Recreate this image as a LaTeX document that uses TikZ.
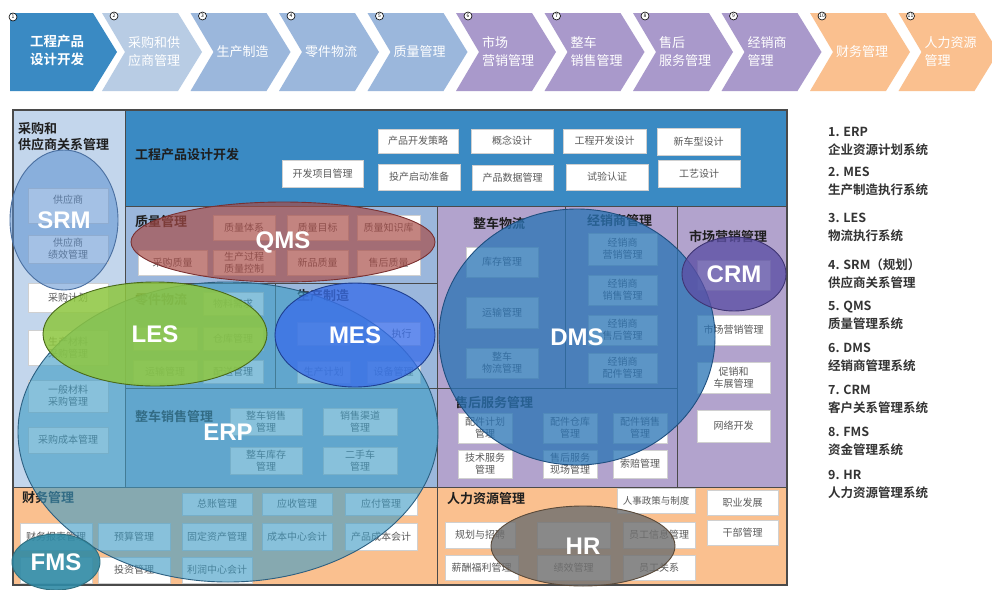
\documentclass[tikz,border=0pt]{standalone}
\usepackage{fontspec}
\setmainfont{Noto Sans CJK SC}[BoldFont={Noto Sans CJK SC Bold}]
\newfontfamily\tagfont{Liberation Sans}[BoldFont={Liberation Sans Bold}]
\usetikzlibrary{shapes.geometric}

% palette
\definecolor{cEng}{HTML}{3A8AC3}
\definecolor{cLight}{HTML}{B8CCE4}
\definecolor{cLeft}{HTML}{C3D6EC}
\definecolor{cMid}{HTML}{9BB7DC}
\definecolor{cPur}{HTML}{B2A3CD}
\definecolor{cPurChev}{HTML}{A999CB}
\definecolor{cOra}{HTML}{FAC08F}
\definecolor{secline}{HTML}{4A4A4A}
\definecolor{boxline}{HTML}{D0D0D0}
\definecolor{boxtext}{HTML}{5A5A5A}
\definecolor{titletext}{HTML}{1E1E1E}
\definecolor{legtext}{HTML}{333333}
% system overlays: fill / edge
\definecolor{erpF}{HTML}{3F9CC5}\definecolor{erpE}{HTML}{2C5F80}
\definecolor{lesF}{HTML}{8DC63F}\definecolor{lesE}{HTML}{4A6A1A}
\definecolor{mesF}{HTML}{3A6EE8}\definecolor{mesE}{HTML}{1F3F90}
\definecolor{srmF}{HTML}{5B8FD0}\definecolor{srmE}{HTML}{4A6FA0}
\definecolor{qmsF}{HTML}{A84A45}\definecolor{qmsE}{HTML}{7A3030}
\definecolor{dmsF}{HTML}{2A74B5}\definecolor{dmsE}{HTML}{1F4F7F}
\definecolor{crmF}{HTML}{5C4FA5}\definecolor{crmE}{HTML}{3F3573}
\definecolor{fmsF}{HTML}{2F8AA5}\definecolor{fmsE}{HTML}{2F6F80}
\definecolor{hrF}{HTML}{707070}\definecolor{hrE}{HTML}{5A4A3A}

\tikzset{
  sect/.style={draw=secline, line width=0.7pt, inner sep=0pt, outer sep=0pt},
  wbox/.style={fill=white, draw=boxline, line width=0.4pt, text=boxtext,
    font=\fontsize{10}{12}\selectfont, align=center, inner sep=0pt},
  ttl/.style={font=\bfseries\fontsize{13}{16}\selectfont, text=titletext,
    inner sep=0pt, anchor=west, align=left},
  chevtext/.style={text=white, font=\fontsize{13}{18}\selectfont,
    inner sep=0pt, anchor=west, align=left},
  ovl/.style={ellipse, inner sep=0pt, line width=0.9pt, text=white, text opacity=1,
    draw opacity=1, font=\tagfont\bfseries\fontsize{24}{24}\selectfont},
  numc/.style={circle, draw=black, fill=white, line width=0.6pt,
    minimum size=8pt, inner sep=0pt, font=\fontsize{5}{5}\selectfont},
  legend/.style={anchor=west, align=left, inner sep=0pt, text=legtext,
    font=\bfseries\fontsize{12.5}{18}\selectfont},
}

% rectangle node given by its corners: [style]{name}{x1}{y1}{x2}{y2}{text}
\newcommand\rbox[7][wbox]{%
  \pgfmathsetmacro\bw{#5-#3}\pgfmathsetmacro\bh{#6-#4}%
  \node[#1, minimum width=\bw pt, minimum height=\bh pt] (#2)
    at ({(#3+#5)/2},{(#4+#6)/2}) {#7};}

% process step arrow: {name}{left x}{colour}{text}{number}
\newcommand\chev[5]{%
  \fill[#3] (#2,13) -- ++(76,0) -- ++(24,39) -- ++(-24,39) -- ++(-76,0) -- ++(23,-39) -- cycle;
  \node[chevtext] (#1) at (#2+26,52) {#4};
  \node[numc] (#1n) at (#2+12,16) {#5};}

% system overlay: {name}{fill}{edge}{opacity}{cx}{cy}{rx}{ry}{label}
\newcommand\sysovl[9]{%
  \node[ovl, fill=#2, fill opacity=#4, draw=#3, minimum width=2*#7 pt,
    minimum height=2*#8 pt] (#1) at (#5,#6) {#9};}

\begin{document}
\begin{tikzpicture}[x=1pt,y=-1pt]
\useasboundingbox (0,0) rectangle (992,589);
\fill[white] (0,0) rectangle (992,589);

% ---------- process chain ----------
\fill[cEng] (10,13) -- (93,13) -- (117,52) -- (93,91) -- (10,91) -- cycle;
\node[chevtext, font=\bfseries\fontsize{13.5}{18}\selectfont] (c1) at (30,50) {工程产品\\设计开发};
\node[numc] (c1n) at (13,17) {1};
\chev{c2}{102}{cLight}{采购和供\\应商管理}{2}
\chev{c3}{190.5}{cMid}{生产制造}{3}
\chev{c4}{279}{cMid}{零件物流}{4}
\chev{c5}{367.5}{cMid}{质量管理}{5}
\chev{c6}{456}{cPurChev}{市场\\营销管理}{6}
\chev{c7}{544.5}{cPurChev}{整车\\销售管理}{7}
\chev{c8}{633}{cPurChev}{售后\\服务管理}{8}
\chev{c9}{721.5}{cPurChev}{经销商\\管理}{9}
\chev{c10}{810}{cOra}{财务管理}{10}
\chev{c11}{898.5}{cOra}{人力资源\\管理}{11}

% ---------- business domains ----------
\rbox[sect, fill=cLeft]{sPur}{13}{110}{125}{487}{}
\rbox[sect, fill=cEng]{sEng}{125}{110}{787}{206}{}
\rbox[sect, fill=cMid]{sQual}{125}{206}{437}{283}{}
\rbox[sect, fill=cMid]{sParts}{125}{283}{275}{388}{}
\rbox[sect, fill=cMid]{sProd}{275}{283}{437}{388}{}
\rbox[sect, fill=cMid]{sSales}{125}{388}{437}{487}{}
\rbox[sect, fill=cPur]{sVLog}{437}{206}{565}{388}{}
\rbox[sect, fill=cPur]{sDeal}{565}{206}{677}{388}{}
\rbox[sect, fill=cPur]{sMkt}{677}{206}{787}{487}{}
\rbox[sect, fill=cPur]{sAfter}{437}{388}{677}{487}{}
\rbox[sect, fill=cOra]{sFin}{13}{487}{437}{585}{}
\rbox[sect, fill=cOra]{sHR}{437}{487}{787}{585}{}
\draw[secline, line width=1.2pt] (sPur.north west) rectangle (sHR.south east);

% domain titles
\node[ttl] (tPur) at (18,137) {采购和\\供应商关系管理};
\node[ttl] (tEng) at (135,155) {工程产品设计开发};
\node[ttl] (tQual) at (135,222) {质量管理};
\node[ttl] (tParts) at (135,300) {零件物流};
\node[ttl] (tProd) at (297,296) {生产制造};
\node[ttl] (tSales) at (135,417) {整车销售管理};
\node[ttl] (tVLog) at (473,223) {整车物流};
\node[ttl] (tDeal) at (587,221) {经销商管理};
\node[ttl] (tMkt) at (689,236) {市场营销管理};
\node[ttl] (tAfter) at (455,403) {售后服务管理};
\node[ttl] (tFin) at (22,498) {财务管理};
\node[ttl] (tHR) at (447,499) {人力资源管理};

% engineering
\rbox{e1}{378}{129}{458}{153}{产品开发策略}
\rbox{e2}{471}{129}{553}{153}{概念设计}
\rbox{e3}{563}{129}{646}{153}{工程开发设计}
\rbox{e4}{657}{128}{740}{155}{新车型设计}
\rbox{e5}{282}{160}{363}{187}{开发项目管理}
\rbox{e6}{378}{164}{460}{190}{投产启动准备}
\rbox{e7}{472}{165}{553}{190}{产品数据管理}
\rbox{e8}{566}{164}{648}{190}{试验认证}
\rbox{e9}{658}{160}{740}{187}{工艺设计}

% quality
\rbox{q1}{213}{215}{275}{240}{质量体系}
\rbox{q2}{287}{215}{348}{240}{质量目标}
\rbox{q3}{357}{215}{420}{240}{质量知识库}
\rbox{q4}{138}{250}{207}{275}{采购质量}
\rbox{q5}{213}{250}{275}{275}{生产过程\\质量控制}
\rbox{q6}{287}{250}{348}{275}{新品质量}
\rbox{q7}{357}{250}{420}{275}{售后质量}

% purchasing and suppliers
\rbox{p1}{28}{188}{108}{223}{供应商\\\mbox{}}
\rbox{p2}{28}{235}{108}{263}{供应商\\绩效管理}
\rbox{p3}{28}{283}{108}{312}{采购计划}
\rbox{p4}{28}{330}{108}{365}{生产材料\\采购管理}
\rbox{p5}{28}{380}{108}{412}{一般材料\\采购管理}
\rbox{p6}{28}{427}{108}{453}{采购成本管理}

% parts logistics
\rbox{l1}{203}{292}{263}{315}{物料需求}
\rbox{l2}{133}{327}{197}{350}{}
\rbox{l3}{203}{327}{263}{350}{仓库管理}
\rbox{l4}{133}{360}{197}{383}{运输管理}
\rbox{l5}{203}{360}{263}{383}{配送管理}

% production
\rbox{m1}{297}{322}{350}{345}{}
\rbox{m2}{367}{322}{420}{345}{\hspace*{16pt}执行}
\rbox{m3}{297}{361}{350}{383}{生产计划}
\rbox{m4}{367}{361}{420}{383}{设备管理}

% vehicle sales
\rbox{v1}{230}{408}{302}{435}{整车销售\\管理}
\rbox{v2}{323}{408}{397}{435}{销售渠道\\管理}
\rbox{v3}{230}{447}{302}{474}{整车库存\\管理}
\rbox{v4}{323}{447}{397}{474}{二手车\\管理}

% finance
\rbox{f1}{182}{493}{252}{515}{总账管理}
\rbox{f2}{262}{493}{332}{515}{应收管理}
\rbox{f3}{345}{493}{417}{515}{应付管理}
\rbox{f4}{20}{523}{92}{550}{财务报表管理}
\rbox{f5}{98}{523}{170}{550}{预算管理}
\rbox{f6}{182}{523}{252}{550}{固定资产管理}
\rbox{f7}{262}{523}{332}{550}{成本中心会计}
\rbox{f8}{345}{523}{417}{550}{产品成本会计}
\rbox{f9}{20}{557}{92}{583}{}
\rbox{f10}{98}{557}{170}{583}{投资管理}
\rbox{f11}{182}{557}{252}{583}{利润中心会计}

% human resources
\rbox[wbox, font=\fontsize{9.5}{12}\selectfont]{h1}{617}{488}{695}{513}{人事政策与制度}
\rbox{h2}{707}{490}{778}{515}{职业发展}
\rbox{h3}{445}{522}{515}{548}{规划与招聘}
\rbox{h4}{537}{522}{610}{548}{}
\rbox{h5}{623}{522}{695}{548}{员工信息管理}
\rbox{h6}{707}{520}{778}{545}{干部管理}
\rbox{h7}{445}{555}{518}{580}{薪酬福利管理}
\rbox{h8}{537}{555}{610}{580}{绩效管理}
\rbox{h9}{623}{555}{695}{580}{员工关系}

% vehicle logistics
\rbox{w1}{466}{247}{538}{277}{库存管理}
\rbox{w2}{466}{297}{538}{328}{运输管理}
\rbox{w3}{466}{348}{538}{378}{整车\\物流管理}

% dealers
\rbox{d1}{588}{233}{657}{265}{经销商\\营销管理}
\rbox{d2}{588}{275}{657}{305}{经销商\\销售管理}
\rbox{d3}{588}{315}{657}{345}{经销商\\售后管理}
\rbox{d4}{588}{353}{657}{383}{经销商\\配件管理}

% marketing
\rbox{k1}{697}{260}{770}{290}{}
\rbox{k2}{697}{315}{770}{345}{市场营销管理}
\rbox{k3}{697}{362}{770}{393}{促销和\\车展管理}
\rbox{k4}{697}{410}{770}{442}{网络开发}

% after-sales service
\rbox{a1}{458}{413}{512}{443}{配件计划\\管理}
\rbox{a2}{543}{413}{597}{443}{配件仓库\\管理}
\rbox{a3}{613}{413}{667}{443}{配件销售\\管理}
\rbox{a4}{458}{450}{512}{478}{技术服务\\管理}
\rbox{a5}{543}{450}{597}{478}{售后服务\\现场管理}
\rbox{a6}{613}{450}{667}{478}{索赔管理}

% ---------- system coverage ----------
\sysovl{erp}{erpF}{erpE}{0.62}{228}{432}{210}{150}{ERP}
\sysovl{les}{lesF}{lesE}{0.85}{155}{334}{112}{52}{LES}
\sysovl{mes}{mesF}{mesE}{0.78}{355}{335}{80}{52}{MES}
\sysovl{srm}{srmF}{srmE}{0.55}{64}{220}{54}{70}{SRM}
\sysovl{qms}{qmsF}{qmsE}{0.68}{283}{242}{152}{40}{QMS}
\sysovl{dms}{dmsF}{dmsE}{0.76}{577}{337}{138}{128}{DMS}
\sysovl{crm}{crmF}{crmE}{0.78}{734}{274}{52}{37}{CRM}
\sysovl{fms}{fmsF}{fmsE}{0.90}{56}{562}{44}{28}{FMS}
\sysovl{hr}{hrF}{hrE}{0.82}{583}{546}{92}{40}{HR}

% ---------- legend ----------
\node[legend] (g1) at (828,141) {1. ERP\\企业资源计划系统};
\node[legend] (g2) at (828,181) {2. MES\\生产制造执行系统};
\node[legend] (g3) at (828,227) {3. LES\\物流执行系统};
\node[legend] (g4) at (828,274) {4. SRM（规划）\\供应商关系管理};
\node[legend] (g5) at (828,315) {5. QMS\\质量管理系统};
\node[legend] (g6) at (828,357) {6. DMS\\经销商管理系统};
\node[legend] (g7) at (828,399) {7. CRM\\客户关系管理系统};
\node[legend] (g8) at (828,441) {8. FMS\\资金管理系统};
\node[legend] (g9) at (828,484) {9. HR\\人力资源管理系统};
\end{tikzpicture}
\end{document}
